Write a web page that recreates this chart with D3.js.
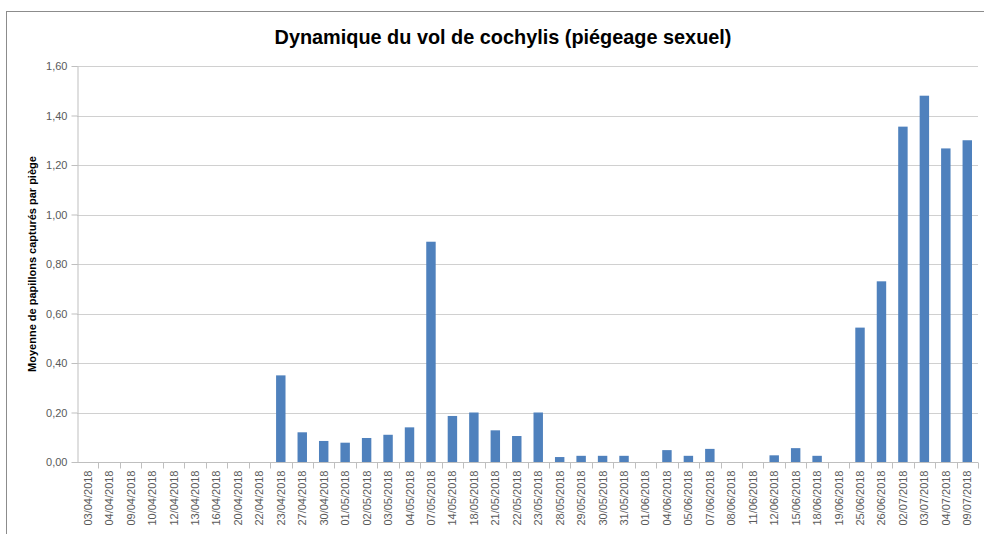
<!DOCTYPE html>
<html>
<head>
<meta charset="utf-8">
<script src="https://cdn.jsdelivr.net/npm/d3@7"></script>
<style>
  body { margin: 0; background: #fff; }
  svg { display: block; font-family: "Liberation Sans", Arial, sans-serif; }
</style>
</head>
<body>
<svg width="984" height="534"></svg>
<script>
// dates of the trap readings
const dates = [
    "03/04/2018", "04/04/2018", "09/04/2018", "10/04/2018", "12/04/2018", "13/04/2018",
    "16/04/2018", "20/04/2018", "22/04/2018", "23/04/2018", "27/04/2018", "30/04/2018",
    "01/05/2018", "02/05/2018", "03/05/2018", "04/05/2018", "07/05/2018", "14/05/2018",
    "18/05/2018", "21/05/2018", "22/05/2018", "23/05/2018", "28/05/2018", "29/05/2018",
    "30/05/2018", "31/05/2018", "01/06/2018", "04/06/2018", "05/06/2018", "07/06/2018",
    "08/06/2018", "11/06/2018", "12/06/2018", "15/06/2018", "18/06/2018", "19/06/2018",
    "25/06/2018", "26/06/2018", "02/07/2018", "03/07/2018", "04/07/2018", "09/07/2018"
];
// moyenne de papillons par piege
const moyennes = [
    0, 0, 0, 0, 0, 0,
    0, 0, 0, 0.35, 0.12, 0.085,
    0.078, 0.097, 0.11, 0.14, 0.89, 0.186,
    0.2, 0.128, 0.105, 0.2, 0.02, 0.025,
    0.025, 0.025, 0, 0.048, 0.025, 0.053,
    0, 0, 0.027, 0.056, 0.025, 0,
    0.543, 0.73, 1.355, 1.48, 1.267, 1.3
];
const yTicks = [0, 0.2, 0.4, 0.6, 0.8, 1.0, 1.2, 1.4, 1.6];

const titre = "Dynamique du vol de cochylis (piégeage sexuel)";
const yLabel = "Moyenne de papillons capturés par piège";

const svg = d3.select("svg");
const margin = {left: 77, right: 6, top: 66, bottom: 72};
const W = 984, H = 534;

// outer chart frame (runs off the right and bottom of the shot)
svg.append("rect")
    .attr("x", 6.5).attr("y", 11.5)
    .attr("width", 1000).attr("height", 600)
    .attr("fill", "none")
    .attr("stroke", "#8c8c8c")
    .attr("stroke-width", 1);

const x = d3.scaleBand()
    .domain(dates)
    .range([margin.left, W - margin.right])
    .paddingInner(0.56)
    .paddingOuter(0.28);

const y = d3.scaleLinear()
    .domain([0, 1.6])
    .range([H - margin.bottom, margin.top]);

const fmt = d => d.toFixed(2).replace(".", ",");

// gridlines
svg.append("g")
    .selectAll("line")
    .data(yTicks.slice(1))
    .join("line")
    .attr("x1", margin.left).attr("x2", W - margin.right)
    .attr("y1", d => Math.round(y(d)) + 0.5)
    .attr("y2", d => Math.round(y(d)) + 0.5)
    .attr("stroke", "#d0d0d0");

// bars
svg.append("g")
    .selectAll("rect")
    .data(moyennes)
    .join("rect")
    .attr("x", (d, i) => x(dates[i]))
    .attr("width", x.bandwidth())
    .attr("y", d => y(d))
    .attr("height", d => y(0) - y(d))
    .attr("fill", "#4f81bd");

// y axis
const yAxis = svg.append("g")
    .attr("transform", `translate(${margin.left + 0.5},0)`)
    .call(d3.axisLeft(y).tickValues(yTicks).tickFormat(fmt).tickSize(6).tickSizeOuter(0));
yAxis.select(".domain").attr("stroke", "#bfbfbf");
yAxis.selectAll(".tick line").attr("stroke", "#bfbfbf");
yAxis.selectAll(".tick text")
    .attr("x", -10)
    .attr("fill", "#595959")
    .style("font-size", "11px")
    .style("font-family", "Liberation Sans, Arial, sans-serif");

// x axis, ticks sit between categories
const step = x.step();
const xAxis = svg.append("g")
    .attr("transform", `translate(0,${y(0) + 0.5})`);
xAxis.append("line")
    .attr("x1", margin.left).attr("x2", W - margin.right)
    .attr("stroke", "#bfbfbf");
xAxis.selectAll(".tk")
    .data(dates)
    .join("line")
    .attr("class", "tk")
    .attr("x1", d => Math.round(x(d) - x.bandwidth() * 0 + x.bandwidth() / 2 + step / 2) + 0.5)
    .attr("x2", d => Math.round(x(d) + x.bandwidth() / 2 + step / 2) + 0.5)
    .attr("y1", 0).attr("y2", 6)
    .attr("stroke", "#bfbfbf");
xAxis.selectAll(".lbl")
    .data(dates)
    .join("text")
    .attr("class", "lbl")
    .attr("transform", d => `translate(${x(d) + x.bandwidth() / 2 + 4},8) rotate(-90)`)
    .attr("text-anchor", "end")
    .attr("fill", "#595959")
    .style("font-size", "11px")
    .text(d => d);

// title, sized to span the same width as the original
const t = svg.append("text")
    .attr("x", 503).attr("y", 44)
    .attr("text-anchor", "middle")
    .attr("font-weight", "bold")
    .attr("fill", "#000")
    .style("font-size", "20px")
    .text(titre);
const tw = t.node().getComputedTextLength();
t.style("font-size", (20 * 457 / tw).toFixed(2) + "px");

// y label
svg.append("text")
    .attr("transform", `translate(36,${(y(0) + y(1.6)) / 2}) rotate(-90)`)
    .attr("text-anchor", "middle")
    .attr("font-weight", "bold")
    .style("font-size", "11px")
    .text(yLabel);
</script>
</body>
</html>
